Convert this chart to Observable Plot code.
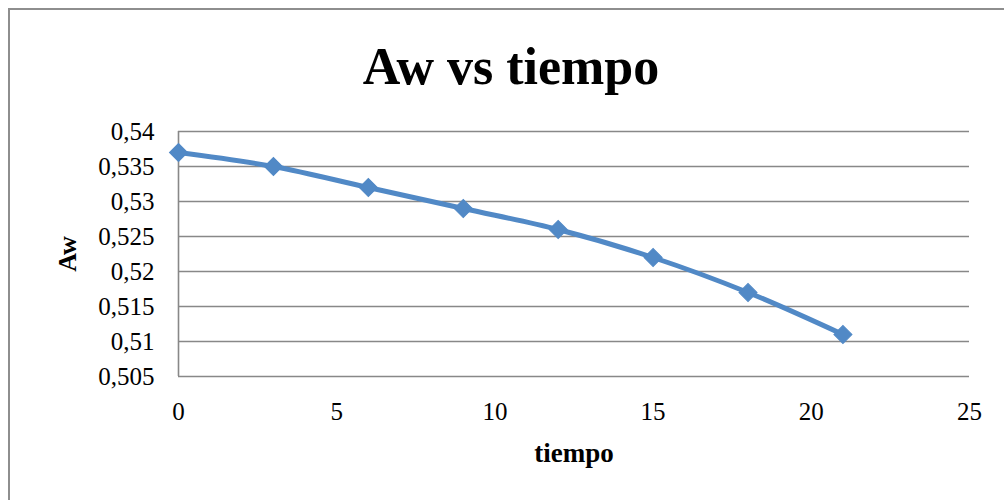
<!DOCTYPE html>
<html>
<head>
<meta charset="utf-8">
<script src="https://cdn.jsdelivr.net/npm/d3@7"></script>
<script src="https://cdn.jsdelivr.net/npm/@observablehq/plot@0.6"></script>
<style>
  html, body { margin: 0; padding: 0; background: #fff; overflow: hidden; }
  #wrap { position: relative; width: 1004px; height: 500px; }
  #frame { position: absolute; left: 8px; top: 8px; width: 1200px; height: 700px;
           border-left: 2px solid #8e8e8e; border-top: 2px solid #8e8e8e; }
  #title { position: absolute; left: 9px; width: 1004px; top: 37px; text-align: center;
           font-family: "Liberation Serif", serif; font-weight: bold; font-size: 52px; line-height: 60px; }
  #chart { position: absolute; left: 0; top: 0; }
</style>
</head>
<body>
<div id="wrap">
  <div id="frame"></div>
  <div id="chart"></div>
  <div id="title">Aw vs tiempo</div>
</div>
<script>
const tiempo = [0, 3, 6, 9, 12, 15, 18, 21];
const aw = [0.537, 0.535, 0.532, 0.529, 0.526, 0.522, 0.517, 0.511];
const yTicks = [0.505, 0.51, 0.515, 0.52, 0.525, 0.53, 0.535, 0.54];
const xTicks = [0, 5, 10, 15, 20, 25];

const data = tiempo.map((t, i) => ({tiempo: t, aw: aw[i]}));
const fmt = d => d3.format(".3~f")(d).replace(".", ",");
const grid = "#888888";
const blue = "#5189c6";

const plot = Plot.plot({
  width: 1004,
  height: 500,
  marginLeft: 178,
  marginRight: 35,
  marginTop: 131,
  marginBottom: 124,
  style: {fontFamily: "'Liberation Serif', serif", fontSize: "25px", color: "#000", background: "transparent"},
  x: {domain: [0, 25], ticks: xTicks},
  y: {domain: [0.505, 0.54], ticks: yTicks},
  marks: [
    Plot.ruleY(yTicks, {stroke: grid, strokeWidth: 1.6}),
    Plot.ruleX([0], {stroke: grid, strokeWidth: 1.6}),
    Plot.axisY({ticks: yTicks, tickSize: 0, tickPadding: 24, tickFormat: fmt, label: null, fill: "#000"}),
    Plot.axisX({ticks: xTicks, tickSize: 0, tickPadding: 26, label: null, fill: "#000"}),
    Plot.line(data, {x: "tiempo", y: "aw", stroke: blue, strokeWidth: 5, curve: "catmull-rom"}),
    Plot.dot(data, {x: "tiempo", y: "aw", symbol: "square", r: 7.2, rotate: 45, fill: blue, stroke: blue, strokeWidth: 1}),
    Plot.text(["tiempo"], {frameAnchor: "bottom", lineAnchor: "middle", textAnchor: "middle", dy: 77, fontWeight: "bold", fontSize: 27, fill: "#000"}),
    Plot.text(["Aw"], {frameAnchor: "left", textAnchor: "middle", lineAnchor: "middle", dx: -111, rotate: -90, fontWeight: "bold", fontSize: 26, fill: "#000"})
  ]
});
document.getElementById("chart").appendChild(plot);
</script>
</body>
</html>
